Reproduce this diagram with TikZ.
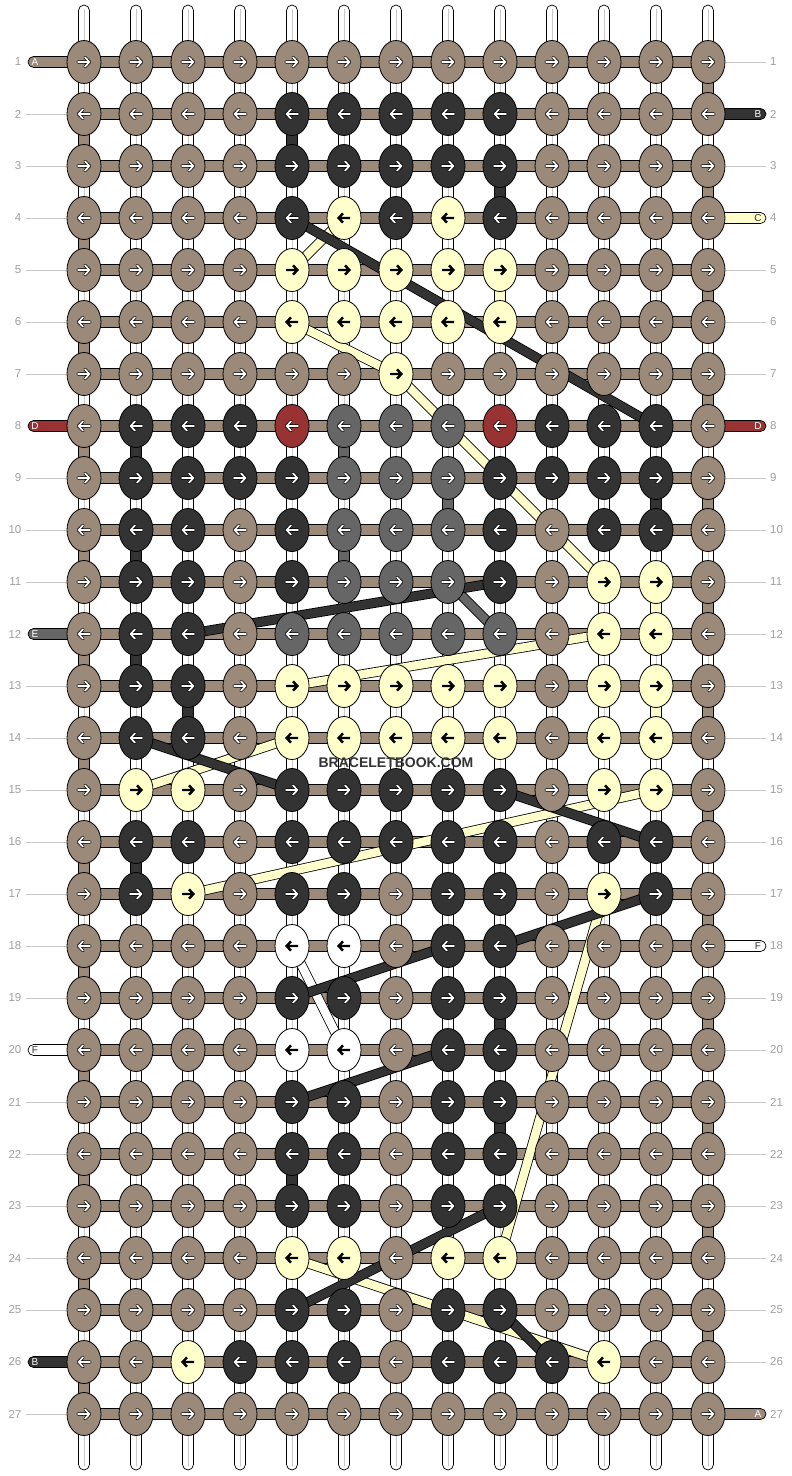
\documentclass[tikz,border=0pt]{standalone}
\usepackage{fontspec}
\setmainfont{Liberation Sans}
\usetikzlibrary{shapes.geometric}
\definecolor{kb}{HTML}{9B8A7A}
\definecolor{kd}{HTML}{333333}
\definecolor{ky}{HTML}{FFFFCC}
\definecolor{kr}{HTML}{993333}
\definecolor{kg}{HTML}{666666}
\definecolor{kw}{HTML}{FFFFFF}
\definecolor{numgray}{HTML}{A0A0A0}
\definecolor{linegray}{HTML}{C8C8C8}
\begin{document}
\begin{tikzpicture}[x=1pt,y=-1pt,
  knt/.style={ellipse,draw=black,line width=0.8pt,minimum width=34pt,minimum height=43pt,inner sep=0pt},
  kn b/.style={knt,fill=kb}, kn d/.style={knt,fill=kd}, kn y/.style={knt,fill=ky},
  kn r/.style={knt,fill=kr}, kn g/.style={knt,fill=kg}, kn w/.style={knt,fill=kw},
  wa/.style={draw=black,line width=0.75pt,double=white,double distance=1.7pt,line cap=round,line join=round},
  ba/.style={draw=black,line width=2.4pt,line cap=butt,line join=miter},
  arr b/.style={wa}, arr d/.style={wa}, arr r/.style={wa}, arr g/.style={wa},
  arr y/.style={ba}, arr w/.style={ba},
  hbar/.style={fill=kb,draw=black,line width=0.7pt},
  vstr/.style={fill=white,draw=black,line width=0.7pt},
  seg/.style={draw=black,line width=0.7pt},
  strand/.style={draw=black,line width=0.8pt,double distance=8.4pt,line cap=butt},
  rownum/.style={text=numgray,font=\fontsize{11.5}{12}\selectfont,inner sep=0pt},
  lbl/.style={font=\fontsize{10}{10}\selectfont,inner sep=0pt},
  tick/.style={draw=linegray,line width=0.9pt}
]
\useasboundingbox (0,0) rectangle (792,1476);
\fill[white] (0,0) rectangle (792,1476);

% knot coordinates
\foreach \r in {1,...,27}{\foreach \c in {1,...,13}{%
  \coordinate (p\r-\c) at ({84+52*(\c-1)},{62+52*(\r-1)});}}

% vertical base strings
\foreach \c in {1,...,13}{
  \pgfmathsetmacro\xx{84+52*(\c-1)}
  \draw[vstr,rounded corners=5.5pt] (\xx-5.5,5) rectangle (\xx+5.5,1470);
  \draw[linegray,line width=0.8pt] (\xx,9) -- (\xx,1466);
}

% coloured vertical segments
\foreach \r in {2,4,...,26}{
  \pgfmathsetmacro\yy{62+52*(\r-1)}
  \draw[seg,fill=kb] (78.5,\yy+15) rectangle (89.5,\yy+37);}
\foreach \r in {1,3,...,25}{
  \pgfmathsetmacro\yy{62+52*(\r-1)}
  \draw[seg,fill=kb] (702.5,\yy+15) rectangle (713.5,\yy+37);}
\foreach \r/\c/\k in {2/5/kd,3/9/kd,5/9/ky,8/2/kd,8/6/kg,9/8/kg,9/12/kd,10/2/kd,10/6/kg,
  11/12/ky,12/2/kd,13/3/kd,13/12/ky,16/2/kd,19/9/kd,21/9/kd,22/5/kd}{
  \pgfmathsetmacro\xx{84+52*(\c-1)}
  \pgfmathsetmacro\yy{62+52*(\r-1)}
  \draw[seg,fill=\k] (\xx-5.5,\yy+15) rectangle (\xx+5.5,\yy+37);}

% horizontal bars
\foreach \r in {1,...,27}{
  \pgfmathsetmacro\yy{62+52*(\r-1)}
  \draw[hbar] (84,\yy-5.5) rectangle (708,\yy+5.5);}

% left side: labels, ticks, row numbers
\foreach \r/\k/\L/\t in {1/kb/A/white,8/kr/D/white,12/kg/E/white,20/kw/F/kd,26/kd/B/white}{
  \pgfmathsetmacro\yy{62+52*(\r-1)}
  \draw[seg,fill=\k,rounded corners=5.5pt] (28,\yy-5.5) rectangle (84,\yy+5.5);
  \node[lbl,text=\t] (la\r) at (35,\yy) {\L};}
\foreach \r/\k/\L/\t in {2/kd/B/white,4/ky/C/kd,8/kr/D/white,18/kw/F/kd,27/kb/A/white}{
  \pgfmathsetmacro\yy{62+52*(\r-1)}
  \draw[seg,fill=\k,rounded corners=5.5pt] (708,\yy-5.5) rectangle (766,\yy+5.5);
  \node[lbl,text=\t] (ra\r) at (758,\yy) {\L};}
\foreach \r in {2,3,4,5,6,7,9,10,11,13,14,15,16,17,18,19,21,22,23,24,25,27}{
  \pgfmathsetmacro\yy{62+52*(\r-1)}
  \draw[tick] (26,\yy) -- (66,\yy);}
\foreach \r in {1,3,5,6,7,9,10,11,12,13,14,15,16,17,19,20,21,22,23,24,25,26}{
  \pgfmathsetmacro\yy{62+52*(\r-1)}
  \draw[tick] (726,\yy) -- (766,\yy);}
\foreach \r in {1,...,27}{
  \pgfmathsetmacro\yy{62+52*(\r-1)}
  \node[rownum,anchor=east] (nl\r) at (21.5,\yy) {\r};
  \node[rownum,anchor=west] (nr\r) at (770,\yy) {\r};}

% carried strands (light first, dark on top)
\foreach \a/\b/\k in {4-6/5-5/ky,6-5/7-7/ky,7-7/11-11/ky,11-8/12-9/kg,12-11/13-5/ky,
  14-5/15-2/ky,15-12/17-3/ky,17-11/24-9/ky,18-5/20-6/kw,24-5/26-11/ky}{
  \draw[strand,double=\k] (p\a) -- (p\b);}
\foreach \a/\b in {4-5/8-12,11-9/12-3,14-2/15-5,15-9/16-12,17-12/18-9,18-8/19-5,
  20-8/21-5,23-9/25-5,25-9/26-10}{
  \draw[strand,double=kd] (p\a) -- (p\b);}

% knots with arrows
\foreach \r/\row in {
 1/{b,b,b,b,b,b,b,b,b,b,b,b,b},
 2/{b,b,b,b,d,d,d,d,d,b,b,b,b},
 3/{b,b,b,b,d,d,d,d,d,b,b,b,b},
 4/{b,b,b,b,d,y,d,y,d,b,b,b,b},
 5/{b,b,b,b,y,y,y,y,y,b,b,b,b},
 6/{b,b,b,b,y,y,y,y,y,b,b,b,b},
 7/{b,b,b,b,b,b,y,b,b,b,b,b,b},
 8/{b,d,d,d,r,g,g,g,r,d,d,d,b},
 9/{b,d,d,d,d,g,g,g,d,d,d,d,b},
 10/{b,d,d,b,d,g,g,g,d,b,d,d,b},
 11/{b,d,d,b,d,g,g,g,d,b,y,y,b},
 12/{b,d,d,b,g,g,g,g,g,b,y,y,b},
 13/{b,d,d,b,y,y,y,y,y,b,y,y,b},
 14/{b,d,d,b,y,y,y,y,y,b,y,y,b},
 15/{b,y,y,b,d,d,d,d,d,b,y,y,b},
 16/{b,d,d,b,d,d,d,d,d,b,d,d,b},
 17/{b,d,y,b,d,d,b,d,d,b,y,d,b},
 18/{b,b,b,b,w,w,b,d,d,b,b,b,b},
 19/{b,b,b,b,d,d,b,d,d,b,b,b,b},
 20/{b,b,b,b,w,w,b,d,d,b,b,b,b},
 21/{b,b,b,b,d,d,b,d,d,b,b,b,b},
 22/{b,b,b,b,d,d,b,d,d,b,b,b,b},
 23/{b,b,b,b,d,d,b,d,d,b,b,b,b},
 24/{b,b,b,b,y,y,b,y,y,b,b,b,b},
 25/{b,b,b,b,d,d,b,d,d,b,b,b,b},
 26/{b,b,y,d,d,d,b,d,d,d,y,b,b},
 27/{b,b,b,b,b,b,b,b,b,b,b,b,b}}{
  \pgfmathtruncatemacro\dir{1-2*mod(\r+1,2)}
  \pgfmathsetmacro\yy{62+52*(\r-1)}
  \foreach \col [count=\c] in \row {
    \pgfmathsetmacro\xx{84+52*(\c-1)}
    \node[kn \col] (k\r-\c) at (\xx,\yy) {};
    \draw[arr \col,shift={(\xx,\yy)},xscale=\dir] (-6,0) -- (5.5,0) (1,-4.6) -- (5.5,0) -- (1,4.6);
  }
}

\node[text=kd,font=\bfseries\fontsize{14}{14}\selectfont,inner sep=0pt] (wm) at (396,763) {BRACELETBOOK.COM};
\end{tikzpicture}
\end{document}
